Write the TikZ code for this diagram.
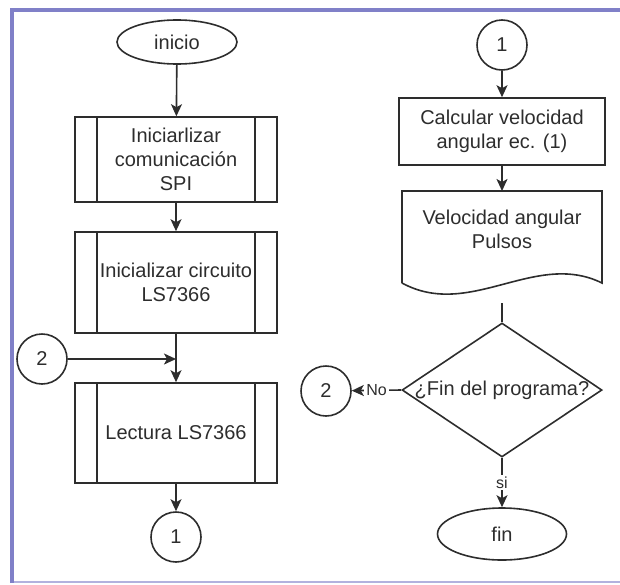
\documentclass[tikz,border=0pt]{standalone}
\usepackage{fontspec}
\setmainfont{Liberation Sans}
\usetikzlibrary{shapes.geometric,arrows.meta}
\definecolor{marco}{RGB}{128,128,200}
\definecolor{marcoclaro}{RGB}{178,178,222}
\definecolor{trazo}{RGB}{45,45,45}
\tikzset{
  terminal/.style={draw=trazo,ellipse,inner sep=0pt},
  conector/.style={draw=trazo,circle,minimum size=25pt,inner sep=0pt},
  subproceso/.style={draw=trazo,rectangle,minimum width=101pt,align=center,inner sep=0pt,
    path picture={
      \draw[trazo] ([xshift=11pt]path picture bounding box.north west)--([xshift=11pt]path picture bounding box.south west);
      \draw[trazo] ([xshift=-11pt]path picture bounding box.north east)--([xshift=-11pt]path picture bounding box.south east);
    }},
  proceso/.style={draw=trazo,rectangle,minimum width=103pt,minimum height=33.5pt,align=center,inner sep=0pt},
  decision/.style={draw=trazo,diamond,minimum width=100pt,minimum height=67pt,inner sep=0pt},
  etiqueta/.style={fill=white,inner sep=1pt,font=\fontsize{8}{9.5}\selectfont}
}
\begin{document}
\begin{tikzpicture}[x=0.5pt,y=-0.5pt,>={Stealth[length=6pt,width=5.5pt,inset=1.5pt]},line width=0.8pt,
  font=\fontsize{10}{12}\selectfont,text=trazo]
\useasboundingbox (0,0) rectangle (620,584);
% marco
\draw[marcoclaro,line width=0.75pt] (12,582)--(620,582);
\draw[marco,line width=2pt] (12,583)--(12,10)--(620,10);

% columna izquierda
\node[terminal,minimum width=60pt,minimum height=22pt] (inicio) at (177,42) {inicio};
\node[subproceso,minimum height=42.5pt] (spi) at (176,159.5) {Iniciarlizar\\comunicación\\SPI};
\node[subproceso,minimum height=50.5pt] (ls) at (176,282.5) {Inicializar circuito\\LS7366};
\node[subproceso,minimum height=50pt] (lect) at (176,433) {Lectura LS7366};
\node[conector] (c1a) at (176,537) {1};
\node[conector] (c2a) at (42,359) {2};

\draw[trazo,->] (inicio) -- (spi);
\draw[trazo,->] (spi) -- (ls);
\draw[trazo,->] (ls) -- (lect);
\draw[trazo,->] (c2a) -- (c2a -| ls.south);
\draw[trazo,->] (lect) -- (c1a);

% columna derecha
\node[conector] (c1b) at (502,45) {1};
\node[proceso] (calc) at (502,131.5) {Calcular velocidad\\angular ec. (1)};
\node[align=center,inner sep=0pt] (doc) at (502,229) {Velocidad angular\\Pulsos};
\coordinate (docn) at (502,191);
\coordinate (docs) at (502,303);
\draw[trazo] (402,283)--(402,191)--(602,191)--(602,283) .. controls (535,250) and (470,320) .. (402,283);
\node[decision] (pregunta) at (502,390) {\makebox[0pt]{¿Fin del programa?}};
\node[conector] (c2b) at (326,391) {2};
\node[terminal,minimum width=64.5pt,minimum height=26pt] (fin) at (502,534) {fin};

\draw[trazo,->] (c1b) -- (calc);
\draw[trazo,->] (calc) -- (docn);
\draw[trazo] (docs) -- (pregunta.north);
\draw[trazo,->] (pregunta.west) -- node[etiqueta]{No} (c2b);
\draw[trazo,->] (pregunta.south) -- node[etiqueta]{si} (fin);
\end{tikzpicture}
\end{document}
